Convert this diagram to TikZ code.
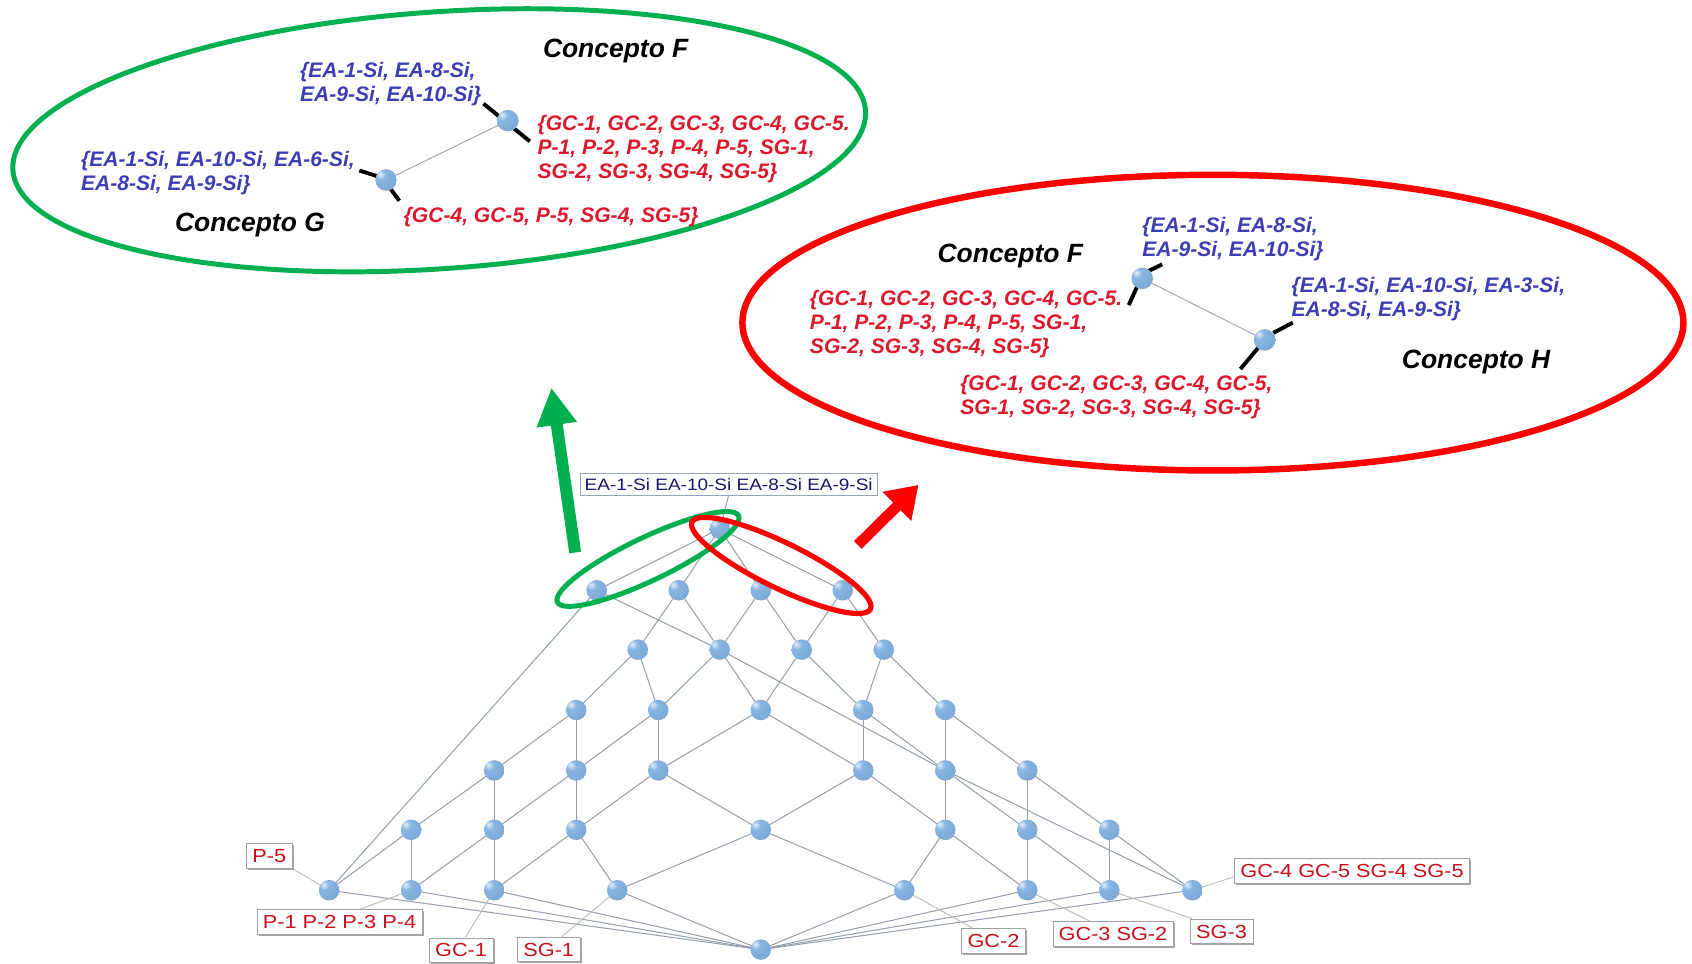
\documentclass[tikz,border=0pt]{standalone}
\usepackage{fontspec}
\setmainfont{Liberation Sans}
\newfontfamily\lblfont{Liberation Sans}[FakeStretch=1.15]
\usetikzlibrary{shadows}

\definecolor{pptgreen}{RGB}{0,176,80}
\definecolor{pptred}{RGB}{255,0,0}
\definecolor{setblue}{RGB}{62,62,180}
\definecolor{setred}{RGB}{222,24,44}
\definecolor{lblred}{RGB}{200,16,26}
\definecolor{lblnavy}{RGB}{24,24,110}
\definecolor{edgegray}{RGB}{150,160,172}
\definecolor{leadgray}{RGB}{185,185,185}
\definecolor{boxgray}{RGB}{160,160,160}
\definecolor{topbox}{RGB}{150,165,190}
\definecolor{orbhi}{RGB}{225,238,250}
\definecolor{orbmid}{RGB}{135,180,225}
\definecolor{orbrim}{RGB}{70,110,160}

% sphere look for the concept nodes
\pgfdeclareradialshading{orb}{\pgfpoint{-14bp}{14bp}}{%
  color(0bp)=(orbhi); color(12bp)=(orbmid); color(40bp)=(orbmid!80!orbrim);
  color(64bp)=(orbrim); color(100bp)=(orbrim)}

\pgfdeclarelayer{bg}
\pgfsetlayers{bg,main}

\begin{document}
\begin{tikzpicture}[x=1pt,y=1pt,
  conc/.style={circle, inner sep=0pt, minimum size=19pt, shading=orb},
  link/.style={draw=edgegray, line width=0.95pt},
  leader/.style={draw=leadgray, line width=0.8pt},
  tick/.style={draw=black, line width=3.6pt},
  objlabel/.style={draw=boxgray, fill=white, text=lblred,
    font=\lblfont\fontsize{17.5}{20}\selectfont,
    inner xsep=5.5pt, inner ysep=0pt, minimum height=23pt,
    text height=12.5pt, text depth=0pt,
    drop shadow={shadow xshift=1.5pt, shadow yshift=-1.5pt, fill=black!35, opacity=1}},
  toplabel/.style={draw=topbox, fill=white, text=lblnavy,
    font=\lblfont\fontsize{15.3}{18}\selectfont,
    inner xsep=4.5pt, inner ysep=0pt, minimum height=20pt,
    text height=10.9pt, text depth=0pt},
  setfont/.style={anchor=base west, inner sep=0pt,
    font=\bfseries\itshape\fontsize{19.5}{22}\selectfont},
  blueset/.style={setfont, text=setblue},
  redset/.style={setfont, text=setred},
  concname/.style={anchor=base west, inner sep=0pt, text=black,
    font=\bfseries\itshape\fontsize{24.5}{28}\selectfont}
]
\useasboundingbox (0,0) rectangle (1568,-893);
\begin{pgfonlayer}{bg}
\fill[white] (0,0) rectangle (1568,-893);
\end{pgfonlayer}

% ---------------- concept lattice ----------------
\foreach \n/\x/\y in {
  T/667/490,
  a1/553/547, a2/629/547, a3/705/547, a4/781/547,
  b1/591/602, b2/667/602, b3/743/602, b4/819/602,
  c1/534/658, c2/610/658, c3/705/658, c4/800/658, c5/876/658,
  d1/458/714, d2/534/714, d3/610/714, d4/800/714, d5/876/714, d6/952/714,
  e1/381/769, e2/458/769, e3/534/769, e4/705/769, e5/876/769, e6/952/769, e7/1028/769,
  f1/305/825, f2/381/825, f3/458/825, f4/572/825, f5/838/825, f6/952/825, f7/1028/825, f8/1105/825,
  B/705/880}
  \node[conc] (\n) at (\x,-\y) {};

\begin{pgfonlayer}{bg}
\foreach \u/\v in {
  T/a1, T/a2, T/a3, T/a4,
  a1/b2, a1/f1, a2/b1, a2/b2, a3/b2, a3/b3, a4/b3, a4/b4,
  b1/c1, b1/c2, b2/c2, b2/c3, b2/d5, b3/c3, b3/c4, b4/c4, b4/c5,
  c1/d1, c1/d2, c2/d2, c2/d3, c3/d3, c3/d4, c4/d4, c4/d5, c5/d5, c5/d6,
  d1/e1, d1/e2, d2/e2, d2/e3, d3/e3, d3/e4, d4/e4, d4/e5,
  d5/e5, d5/e6, d5/f8, d6/e6, d6/e7,
  e1/f1, e1/f2, e2/f2, e2/f3, e3/f3, e3/f4, e4/f4, e4/f5,
  e5/f5, e5/f6, e6/f6, e6/f7, e7/f7, e7/f8,
  f1/B, f2/B, f3/B, f4/B, f5/B, f6/B, f7/B, f8/B}
  \draw[link] (\u.center) -- (\v.center);
\end{pgfonlayer}

% ---------------- object and attribute labels ----------------
\node[toplabel] (lTop) at (675.3,-448.8) {EA-1-Si EA-10-Si EA-8-Si EA-9-Si};
\node[objlabel] (lP5) at (249.5,-793.3) {P-5};
\node[objlabel] (lP14) at (314.6,-854.3) {P-1 P-2 P-3 P-4};
\node[objlabel] (lGC1) at (427.3,-880.5) {GC-1};
\node[objlabel] (lSG1) at (508.5,-879.7) {SG-1};
\node[objlabel] (lGC2) at (920.7,-872) {GC-2};
\node[objlabel] (lGC3) at (1031.4,-865.5) {GC-3 SG-2};
\node[objlabel] (lSG3) at (1132,-863) {SG-3};
\node[objlabel] (lGC45) at (1252.9,-806.8) {GC-4 GC-5 SG-4 SG-5};

\begin{pgfonlayer}{bg}
\draw[link] (T.center) -- (lTop.south);
\draw[leader] (f1.center) -- (lP5.south east);
\draw[leader] (f2.center) -- ([xshift=19pt]lP14.north);
\draw[leader] (f3.center) -- ([xshift=4pt]lGC1.north);
\draw[leader] (f4.center) -- ([xshift=12pt]lSG1.north);
\draw[leader] (f5.center) -- ([xshift=-19pt]lGC2.north);
\draw[leader] (f6.center) -- ([xshift=-21pt]lGC3.north);
\draw[leader] (f7.center) -- ([xshift=2pt]lSG3.north west);
\draw[leader] (f8.center) -- ([yshift=6pt]lGC45.south west);
\end{pgfonlayer}

% ---------------- highlighted pairs ----------------
\draw[pptgreen, line width=4.6pt, rotate around={25.5:(600.5,-518)}]
  (600.5,-518) ellipse [x radius=93pt, y radius=20pt];
\draw[pptred, line width=4.8pt, rotate around={-26:(724,-524)}]
  (724,-524) ellipse [x radius=92pt, y radius=21pt];

% arrows pointing to the enlarged views
\fill[pptgreen, shift={(533,-512)}, rotate=98.2]
  (0,-5.5) -- (119.6,-5.5) -- (119.6,-19) -- (153.6,0) -- (119.6,19) -- (119.6,5.5) -- (0,5.5) -- cycle;
\fill[pptred, shift={(795,-505)}, rotate=44.7]
  (0,-5) -- (50.8,-5) -- (50.8,-19) -- (78.8,0) -- (50.8,19) -- (50.8,5) -- (0,5) -- cycle;

% ---------------- enlarged view: concepts F and G ----------------
\draw[pptgreen, line width=4.6pt, rotate around={4:(407,-130)}]
  (407,-130) ellipse [x radius=396pt, y radius=119pt];

\node[conc, minimum size=20pt] (gF) at (470.6,-111.8) {};
\node[conc, minimum size=20pt] (gG) at (357.8,-166.8) {};
\begin{pgfonlayer}{bg}
\draw[link, line width=0.8pt] (gF.center) -- (gG.center);
\draw[tick] ([shift={(-22.6,15.8)}]gF.center) -- ([shift={(20.4,-19.2)}]gF.center);
\draw[tick] ([shift={(-24.8,8.8)}]gG.center) -- ([shift={(-5,2.5)}]gG.center);
\draw[tick] ([shift={(2.5,-6)}]gG.center) -- ([shift={(12.2,-19.2)}]gG.center);
\end{pgfonlayer}

\node[concname] (gFname) at (503,-53.5) {Concepto F};
\node[concname] (gGname) at (162,-214.7) {Concepto G};
\node[blueset] (gFint) at (278,-72) {\begin{tabular}[t]{@{}l@{}}\{EA-1-Si, EA-8-Si,\\EA-9-Si, EA-10-Si\}\end{tabular}};
\node[redset] (gFext) at (498,-121) {\begin{tabular}[t]{@{}l@{}}\{GC-1, GC-2, GC-3, GC-4, GC-5.\\P-1, P-2, P-3, P-4, P-5, SG-1,\\SG-2, SG-3, SG-4, SG-5\}\end{tabular}};
\node[blueset] (gGint) at (75,-154.5) {\begin{tabular}[t]{@{}l@{}}\{EA-1-Si, EA-10-Si, EA-6-Si,\\EA-8-Si, EA-9-Si\}\end{tabular}};
\node[redset] (gGext) at (374,-206) {\{GC-4, GC-5, P-5, SG-4, SG-5\}};

% ---------------- enlarged view: concepts F and H ----------------
\draw[pptred, line width=6pt] (1124,-299) ellipse [x radius=436pt, y radius=137pt];

\node[conc, minimum size=20pt] (rF) at (1058.5,-258) {};
\node[conc, minimum size=20pt] (rH) at (1172,-315) {};
\begin{pgfonlayer}{bg}
\draw[link, line width=0.8pt] (rF.center) -- (rH.center);
\draw[tick] ([shift={(5,6.5)}]rF.center) -- ([shift={(18.5,13)}]rF.center);
\draw[tick] ([shift={(-4,-6)}]rF.center) -- ([shift={(-12.5,-24.7)}]rF.center);
\draw[tick] ([shift={(8,6.5)}]rH.center) -- ([shift={(26,16)}]rH.center);
\draw[tick] ([shift={(-5,-6)}]rH.center) -- ([shift={(-22.5,-27)}]rH.center);
\end{pgfonlayer}

\node[concname] (rFname) at (868.7,-243.5) {Concepto F};
\node[concname] (rHname) at (1299,-341.7) {Concepto H};
\node[blueset] (rFint) at (1058.5,-215.5) {\begin{tabular}[t]{@{}l@{}}\{EA-1-Si, EA-8-Si,\\EA-9-Si, EA-10-Si\}\end{tabular}};
\node[redset] (rFext) at (750.4,-283.5) {\begin{tabular}[t]{@{}l@{}}\{GC-1, GC-2, GC-3, GC-4, GC-5.\\P-1, P-2, P-3, P-4, P-5, SG-1,\\SG-2, SG-3, SG-4, SG-5\}\end{tabular}};
\node[blueset] (rHint) at (1196.7,-271) {\begin{tabular}[t]{@{}l@{}}\{EA-1-Si, EA-10-Si, EA-3-Si,\\EA-8-Si, EA-9-Si\}\end{tabular}};
\node[redset] (rHext) at (889.7,-361.7) {\begin{tabular}[t]{@{}l@{}}\{GC-1, GC-2, GC-3, GC-4, GC-5,\\SG-1, SG-2, SG-3, SG-4, SG-5\}\end{tabular}};

\end{tikzpicture}
\end{document}
